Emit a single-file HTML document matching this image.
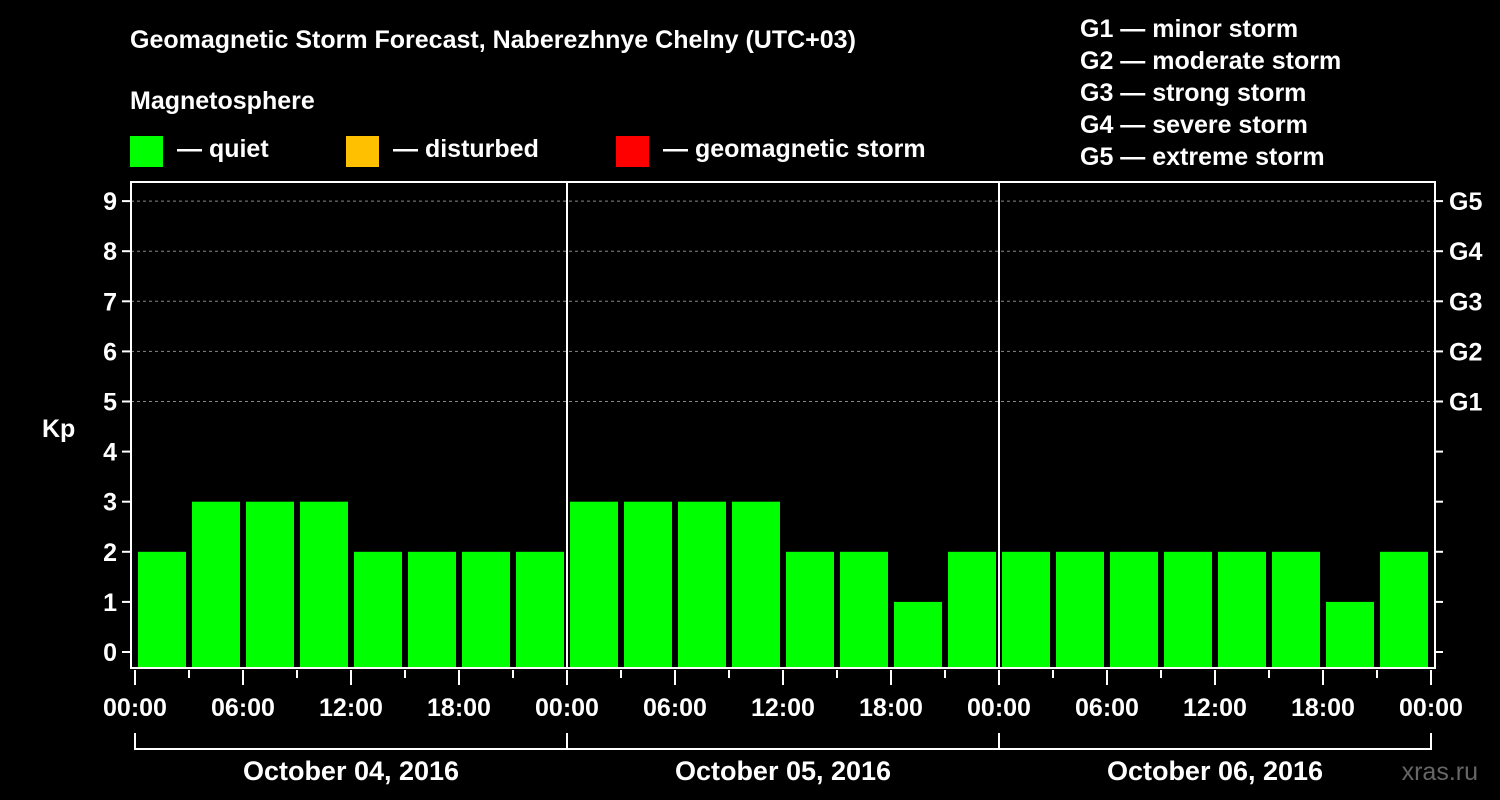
<!DOCTYPE html>
<html><head><meta charset="utf-8"><style>
body{margin:0;background:#000;width:1500px;height:800px;overflow:hidden}
svg{display:block;font-family:"Liberation Sans",Arial,sans-serif;font-weight:bold}
</style></head><body>
<svg id="c" width="1500" height="800">
<text x="130" y="48" fill="#fff" font-size="25">Geomagnetic Storm Forecast, Naberezhnye Chelny (UTC+03)</text>
<text x="130" y="109" fill="#fff" font-size="25">Magnetosphere</text>
<g><rect x="130" y="136" width="33" height="31" fill="#00ff00"/><text x="177" y="157" fill="#fff" font-size="25">— quiet</text></g>
<g><rect x="346" y="136" width="33" height="31" fill="#ffc000"/><text x="393" y="157" fill="#fff" font-size="25">— disturbed</text></g>
<g><rect x="616" y="136" width="33" height="31" fill="#ff0000"/><text x="663" y="157" fill="#fff" font-size="25">— geomagnetic storm</text></g>
<g fill="#fff" font-size="25">
<text x="1080" y="37">G1 — minor storm</text><text x="1080" y="69">G2 — moderate storm</text><text x="1080" y="101">G3 — strong storm</text><text x="1080" y="133">G4 — severe storm</text><text x="1080" y="165">G5 — extreme storm</text></g>
<text x="42" y="437" fill="#fff" font-size="25">Kp</text>
<text x="1478" y="780" fill="#666" font-size="25" text-anchor="end" font-weight="normal">xras.ru</text>
<g id="plot"></g>
</svg>
<script>
const values=[2,3,3,3,2,2,2,2,3,3,3,3,2,2,1,2,2,2,2,2,2,2,1,2];
const dates=["October 04, 2016","October 05, 2016","October 06, 2016"];
const timeLabels=["00:00","06:00","12:00","18:00"];
const gLabels=["G1","G2","G3","G4","G5"];
const NS="http://www.w3.org/2000/svg";
const g=document.getElementById('plot');
const X0=135,DAY=432,SLOT=DAY/8,L=131,R=1435,T=182,B=668;
const y=v=>652-v*50.1;
const x=i=>X0+i*SLOT;
function mk(t,a){const e=document.createElementNS(NS,t);for(const k in a)e.setAttribute(k,a[k]);g.appendChild(e);return e;}
for(let v=5;v<=9;v++){const e=mk('line',{x1:L,x2:R,y1:y(v),y2:y(v),stroke:'#888','stroke-dasharray':'3,3','stroke-width':1});

}
values.forEach((v,i)=>{const e=mk('rect',{x:x(i)+3,y:y(v),width:SLOT-6,height:B-1-y(v),fill:v>=5?'#ff0000':v>=4?'#ffc000':'#00ff00'});

});
for(let d=1;d<3;d++){const e=mk('line',{x1:X0+d*DAY,x2:X0+d*DAY,y1:T,y2:B,stroke:'#fff','stroke-width':2});

}
const fr=mk('rect',{x:L,y:T,width:R-L,height:B-T,fill:'none',stroke:'#fff','stroke-width':2});


for(let v=0;v<=9;v++){
 mk('line',{x1:122,x2:L,y1:y(v),y2:y(v),stroke:'#fff','stroke-width':2});
 mk('line',{x1:R,x2:1443,y1:y(v),y2:y(v),stroke:'#fff','stroke-width':2});
 const t=mk('text',{x:117,y:y(v)+9,fill:'#fff','font-size':25,'text-anchor':'end'});t.textContent=v;
 
 }
gLabels.forEach((s,i)=>{const t=mk('text',{x:1449,y:y(5+i)+9,fill:'#fff','font-size':25});t.textContent=s;
 
 });
for(let i=0;i<=24;i++){const major=i%2==0;mk('line',{x1:x(i),x2:x(i),y1:B+2,y2:major?685:678,stroke:'#fff','stroke-width':2});
 if(major){const t=mk('text',{x:x(i),y:716,fill:'#fff','font-size':25,'text-anchor':'middle'});t.textContent=timeLabels[(i/2)%4];
 
 }}
mk('path',{d:`M${X0} 733V749H${X0+3*DAY}V733`,fill:'none',stroke:'#fff','stroke-width':2});
for(let d=1;d<3;d++)mk('line',{x1:X0+d*DAY,x2:X0+d*DAY,y1:733,y2:749,stroke:'#fff','stroke-width':2});
dates.forEach((s,d)=>{const t=mk('text',{x:X0+d*DAY+DAY/2,y:780,fill:'#fff','font-size':27,'text-anchor':'middle'});t.textContent=s;
 
 });
</script>
</body></html>
